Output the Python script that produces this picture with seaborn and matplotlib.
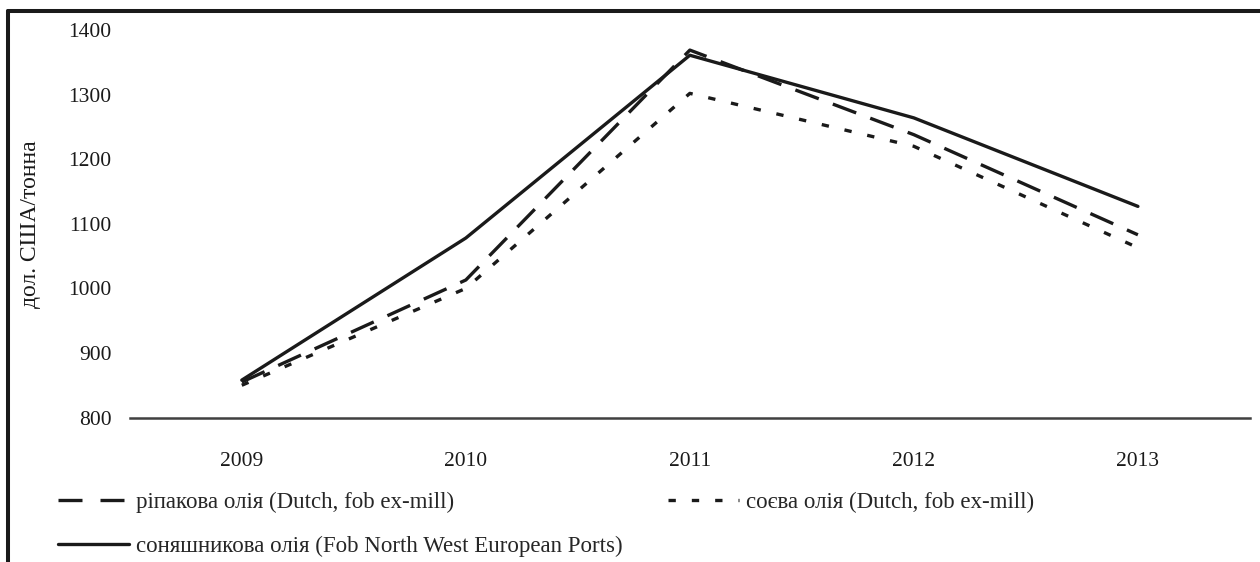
import matplotlib
matplotlib.use("Agg")
import matplotlib.pyplot as plt
import seaborn as sns
import pandas as pd
from matplotlib.lines import Line2D

# --- дані ---
years = ["2009", "2010", "2011", "2012", "2013"]
rapeseed = [855, 1013, 1369, 1238, 1083]
soy = [850, 1000, 1302, 1220, 1063]
sunflower = [858, 1078, 1361, 1264, 1127]

labels = [
    "ріпакова олія (Dutch, fob ex-mill)",
    "соєва олія (Dutch, fob ex-mill)",
    "соняшникова олія (Fob North West European Ports)",
]
y_label = "дол. США/тонна"
y_ticks = [800, 900, 1000, 1100, 1200, 1300, 1400]

rows = []
for name, vals in zip(labels, [rapeseed, soy, sunflower]):
    for yr, v in zip(years, vals):
        rows.append({"year": yr, "value": v, "series": name})
df = pd.DataFrame(rows)

sns.set_style("white")
plt.rcParams["font.family"] = ["Liberation Serif", "DejaVu Serif"]

ink = "#1a1a1a"
lw = 2.4
dash_styles = {
    labels[0]: (7.5, 4.5),
    labels[1]: (2.2, 4.8),
    labels[2]: "",
}

fig = plt.figure(figsize=(12.6, 5.62), dpi=100)
ax = fig.add_axes([0.103, 0.257, 0.889, 0.6895])

sns.lineplot(
    data=df, x="year", y="value", style="series", dashes=dash_styles,
    color=ink, linewidth=lw, legend=False, ax=ax, sort=False,
)

ax.set_xlim(-0.5, 4.5)
ax.set_ylim(800, 1400)
ax.set_yticks(y_ticks)
ax.tick_params(axis="both", length=0, labelsize=15.5, colors=ink)
ax.tick_params(axis="y", pad=13)
ax.tick_params(axis="x", pad=25)
ax.set_xlabel("")
ax.set_ylabel(y_label, fontsize=17, color=ink)
ax.yaxis.set_label_coords(-0.079, 0.5)

for s in ["top", "right", "left"]:
    ax.spines[s].set_visible(False)
ax.spines["bottom"].set_color("#404040")
ax.spines["bottom"].set_linewidth(1.8)

# легенда
handles = [
    Line2D([], [], color=ink, lw=lw, dashes=(7.2, 5.4)),
    Line2D([], [], color=ink, lw=lw),
    Line2D([], [], color=ink, lw=lw, dashes=dash_styles[labels[1]]),
]
fig.legend(
    handles, [labels[0], labels[2], labels[1]], ncol=2, loc="upper left",
    bbox_to_anchor=(0.046, 0.1245), frameon=False, fontsize=16.5,
    handlelength=3.1, handletextpad=0.3, columnspacing=2.0,
    labelspacing=1.0, borderaxespad=0, borderpad=0,
)

# рамка
fig.add_artist(Line2D([0.0063, 1.0], [0.980, 0.980], transform=fig.transFigure,
                      color=ink, lw=2.9))
fig.add_artist(Line2D([0.0063, 0.0063], [0.980, 0.0], transform=fig.transFigure,
                      color=ink, lw=2.9))

fig.savefig("out.png", dpi=100)
